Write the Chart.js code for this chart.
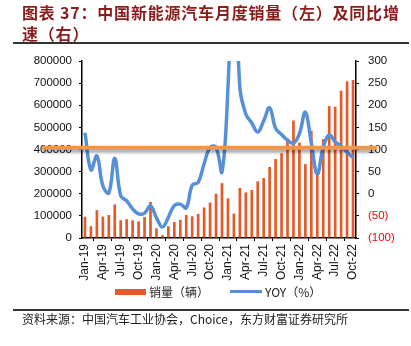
<!DOCTYPE html>
<html><head><meta charset="utf-8">
<script src="https://cdn.jsdelivr.net/npm/chart.js@4"></script>
<style>
html,body{margin:0;padding:0;background:#fff;}
#wrap{position:relative;width:411px;height:346px;overflow:hidden;font-family:"Noto Sans CJK SC","Liberation Sans",sans-serif;}
#c{position:absolute;left:0;top:0;}
.title{position:absolute;left:22px;color:#8a1c1c;font-weight:bold;font-size:16px;letter-spacing:0.8px;line-height:20px;white-space:nowrap;}
.rule{position:absolute;left:13px;width:396px;height:1.5px;background:#333;}
.src{position:absolute;left:22px;top:309px;font-size:12px;color:#222;white-space:nowrap;line-height:18px;}
.lg{position:absolute;top:283px;font-size:12px;color:#222;white-space:nowrap;line-height:18px;}
.sw{position:absolute;}
</style></head>
<body><div id="wrap">
<canvas id="c" width="411" height="346"></canvas>
<div class="title" style="top:2px">图表 37：中国新能源汽车月度销量（左）及同比增</div>
<div class="title" style="top:23px">速（右）</div>
<div class="rule" style="top:42px"></div>
<div class="sw" style="left:115px;top:289px;width:31px;height:6px;background:#e55a28"></div>
<div class="lg" style="left:149px">销量（辆）</div>
<div class="sw" style="left:230px;top:290px;width:32px;height:3px;background:#5590d8"></div>
<div class="lg" style="left:265px">YOY（%）</div>
<div class="rule" style="top:309px"></div>
<div class="src" style="top:310px">资料来源：中国汽车工业协会，Choice，东方财富证券研究所</div>
</div>
<script>
const months = ["Jan-19","Feb-19","Mar-19","Apr-19","May-19","Jun-19","Jul-19","Aug-19","Sep-19","Oct-19","Nov-19","Dec-19",
"Jan-20","Feb-20","Mar-20","Apr-20","May-20","Jun-20","Jul-20","Aug-20","Sep-20","Oct-20","Nov-20","Dec-20",
"Jan-21","Feb-21","Mar-21","Apr-21","May-21","Jun-21","Jul-21","Aug-21","Sep-21","Oct-21","Nov-21","Dec-21",
"Jan-22","Feb-22","Mar-22","Apr-22","May-22","Jun-22","Jul-22","Aug-22","Sep-22","Oct-22"];
const sales = [96000,53000,126000,97000,104000,152000,80000,85000,80000,75000,95000,163000,
44000,13000,53000,72000,82000,104000,98000,109000,138000,160000,200000,248000,
179000,110000,226000,206000,217000,256000,271000,321000,357000,383000,450000,531000,
431000,334000,484000,299000,447000,596000,593000,666000,708000,714000];
const yoy = [138,53.6,85.4,18.1,1.8,80,-4.7,-15.8,-34.2,-45.6,-43.7,-27.4,
-54.4,-75.2,-53.2,-26.5,-23.5,-31.7,19.3,25.8,67.7,104.5,104.9,49.5,
238.5,585.3,239.6,180.3,160,139.3,164.9,194.6,148.1,133.8,121.1,114,
135.8,184.3,114,44.6,105.2,133,117.3,107.5,93.9,81.7];
const leftTicks = {min:0,max:800000,step:100000};
const rightTicks = {min:-100,max:300,step:50};
const refLine = [104];

const refPlugin = {
  id:'refLine',
  afterDatasetsDraw(chart){
    const ctx = chart.ctx, a = chart.chartArea, y = chart.scales.y1.getPixelForValue(refLine[0]);
    ctx.save();
    ctx.strokeStyle = '#f0964a';
    ctx.lineWidth = 4;
    ctx.shadowColor = 'rgba(0,0,0,0.35)';
    ctx.shadowBlur = 3;
    ctx.shadowOffsetY = 3;
    ctx.beginPath();
    ctx.moveTo(a.left-40, y);
    ctx.lineTo(a.right+21, y);
    ctx.stroke();
    ctx.restore();
  }
};

new Chart(document.getElementById('c'), {
  type:'bar',
  data:{
    labels: months,
    datasets:[
      {type:'line', label:'YOY（%）', data:yoy, yAxisID:'y1', borderColor:'#5590d8', borderWidth:3.5,
       pointRadius:0, tension:0.4, order:0, fill:false},
      {type:'bar', label:'销量（辆）', data:sales, yAxisID:'y', backgroundColor:'#e55a28',
       barPercentage:0.45, categoryPercentage:1, order:1}
    ]
  },
  options:{
    responsive:false, animation:false, devicePixelRatio:1,
    layout:{padding:{top:61,left:0,right:0,bottom:56}},
    plugins:{legend:{display:false}, tooltip:{enabled:false}},
    scales:{
      x:{
        afterFit(s){ s.height = 52; },
        border:{display:true,color:'#000',width:1.5},
        grid:{display:true,drawOnChartArea:false,drawTicks:true,tickLength:3,color:'#000',lineWidth:1},
        ticks:{autoSkip:false,maxRotation:90,minRotation:90,padding:3,color:'#111',
          font:{family:'"Liberation Sans",Arial,sans-serif',size:12},
          callback(v,i){ return i%3===0 ? this.getLabelForValue(v) : null; }}
      },
      y:{
        position:'left', min:leftTicks.min, max:leftTicks.max,
        afterFit(s){ s.width = 82; },
        border:{display:true,color:'#000',width:1.5},
        grid:{display:true,drawOnChartArea:false,drawTicks:true,tickLength:3,color:'#000'},
        ticks:{stepSize:leftTicks.step,padding:7,color:'#111',
          font:{family:'"Liberation Sans",Arial,sans-serif',size:11.5},
          callback(v){ return String(v); }}
      },
      y1:{
        position:'right', min:rightTicks.min, max:rightTicks.max,
        afterFit(s){ s.width = 55; },
        border:{display:true,color:'#000',width:1.5},
        grid:{display:true,drawOnChartArea:false,drawTicks:true,tickLength:3,color:'#000'},
        ticks:{stepSize:rightTicks.step,padding:9,
          color(c){ return c.tick && c.tick.value<0 ? '#ff0000' : '#111'; },
          font:{family:'"Liberation Sans",Arial,sans-serif',size:11.5},
          callback(v){ return v<0 ? '('+(-v)+')' : String(v); }}
      }
    }
  },
  plugins:[refPlugin]
});
</script>
</body></html>
